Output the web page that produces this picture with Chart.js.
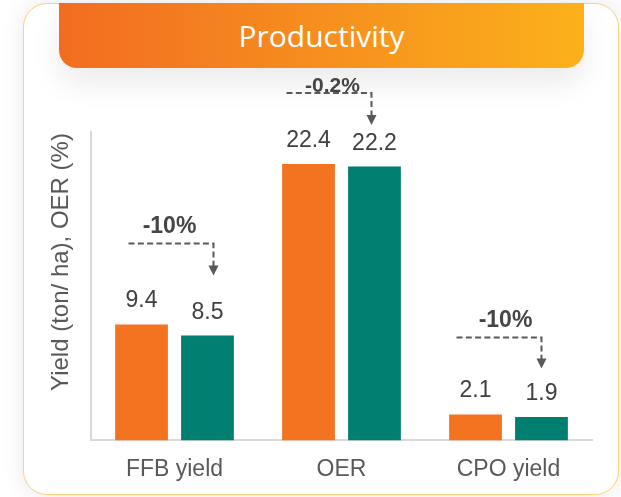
<!DOCTYPE html>
<html lang="en">
<head>
  <meta charset="UTF-8" />
  <title>Productivity</title>
  <script src="https://cdn.jsdelivr.net/npm/chart.js"></script>
  <style>
    html, body { margin: 0; padding: 0; background: #fff; }
    body { width: 621px; height: 497px; position: relative; overflow: hidden; }
    .card {
      position: absolute; left: 23px; top: 3px; width: 594px; height: 490px;
      border: 1.5px solid #fcd27e; border-radius: 24px; background: #fff;
      box-shadow: 0 0 24px rgba(0, 0, 0, 0.09);
    }
    .banner {
      position: absolute; left: 59px; top: 3px; width: 525px; height: 65px;
      border-radius: 0 0 18px 18px;
      background: linear-gradient(90deg, #f26c21, #fbb11b);
      box-shadow: 0 16px 30px rgba(0, 0, 0, 0.08);
      color: #fff; font-family: "Open Sans", sans-serif; font-size: 30px; font-weight: 400;
      text-align: center; line-height: 65px;
    }
    #chart { position: absolute; left: 0; top: 0; }
  </style>
</head>
<body>
  <div class="card"></div>
  <div class="banner">Productivity</div>
  <canvas id="chart" width="621" height="497"></canvas>

  <script>
    // chart data
    const categories = ["FFB yield", "OER", "CPO yield"];
    const prevValues = [9.4, 22.4, 2.1];
    const currValues = [8.5, 22.2, 1.9];
    const changeLabels = ["-10%", "-0.2%", "-10%"];
    const yTitle = "Yield (ton/ ha), OER (%)";

    const FONT = '"Liberation Sans", Arial, sans-serif';

    // value above each bar
    const valueLabels = {
      id: "valueLabels",
      afterDatasetsDraw(chart) {
        const ctx = chart.ctx;
        ctx.save();
        ctx.font = "23px " + FONT;
        ctx.fillStyle = "#404040";
        ctx.textAlign = "center";
        ctx.textBaseline = "alphabetic";
        chart.data.datasets.forEach((ds, i) => {
          chart.getDatasetMeta(i).data.forEach((bar, j) => {
            ctx.fillText(ds.data[j].toFixed(1), bar.x, bar.y - 17);
          });
        });
        ctx.restore();
      }
    };

    // dashed change callouts, offsets in px relative to the bars
    const calloutLayout = [
      { line: 81, tip: 49, text: 10, from: -13, to: 6, dx: -5, size: 23 },
      { line: 71, tip: 39, text: 1.5, from: -22, to: -3, dx: -9, size: 21 },
      { line: 77, tip: 46, text: 10.5, from: -19, to: 0, dx: -3, size: 23 }
    ];
    const changeCallouts = {
      id: "changeCallouts",
      afterDatasetsDraw(chart) {
        const ctx = chart.ctx;
        const m0 = chart.getDatasetMeta(0).data;
        const m1 = chart.getDatasetMeta(1).data;
        ctx.save();
        ctx.strokeStyle = "#595959";
        ctx.lineWidth = 2;
        changeLabels.forEach((label, j) => {
          const L = calloutLayout[j];
          const a = m0[j], b = m1[j];
          const top = Math.min(a.y, b.y);
          const ly = top - L.line;
          const x0 = a.x + L.from, x1 = b.x + L.to;
          const tipY = top - L.tip;
          ctx.setLineDash([6, 3.3]);
          ctx.beginPath();
          ctx.moveTo(x0, ly);
          ctx.lineTo(x1, ly);
          ctx.lineTo(x1, tipY - 9);
          ctx.stroke();
          ctx.setLineDash([]);
          ctx.fillStyle = "#595959";
          ctx.beginPath();
          ctx.moveTo(x1 - 5, tipY - 10);
          ctx.lineTo(x1 + 5, tipY - 10);
          ctx.lineTo(x1, tipY);
          ctx.closePath();
          ctx.fill();
          ctx.fillStyle = "#454545";
          ctx.font = "bold " + L.size + "px " + FONT;
          ctx.textAlign = "center";
          ctx.textBaseline = "alphabetic";
          ctx.fillText(label, (a.x + b.x) / 2 + L.dx, ly - L.text);
        });
        ctx.restore();
      }
    };

    // rotated y axis title (sits a bit above the axis middle in the original)
    const axisTitle = {
      id: "axisTitle",
      afterDraw(chart) {
        const ctx = chart.ctx;
        ctx.save();
        ctx.translate(61, 262);
        ctx.rotate(-Math.PI / 2);
        ctx.font = "24px " + FONT;
        ctx.fillStyle = "#595959";
        ctx.textAlign = "center";
        ctx.textBaseline = "middle";
        ctx.fillText(yTitle, 0, 0);
        ctx.restore();
      }
    };

    new Chart(document.getElementById("chart"), {
      type: "bar",
      data: {
        labels: categories,
        datasets: [
          { label: "Previous", data: prevValues, backgroundColor: "#f47321" },
          { label: "Current", data: currValues, backgroundColor: "#007f70" }
        ]
      },
      options: {
        responsive: false,
        animation: false,
        devicePixelRatio: 1,
        categoryPercentage: 0.79,
        barPercentage: 0.8,
        layout: { padding: { left: 91, right: 29, top: 132, bottom: -1 } },
        plugins: { legend: { display: false }, tooltip: { enabled: false } },
        scales: {
          x: {
            grid: { display: false, drawTicks: false },
            border: { color: "#d9d9d9", width: 2 },
            ticks: { padding: 15, color: "#595959", font: { family: FONT, size: 23 } }
          },
          y: {
            min: 0,
            max: 25,
            grid: { display: false, drawTicks: false },
            border: { color: "#d9d9d9", width: 2 },
            ticks: { display: false }
          }
        }
      },
      plugins: [valueLabels, changeCallouts, axisTitle]
    });
  </script>
</body>
</html>
